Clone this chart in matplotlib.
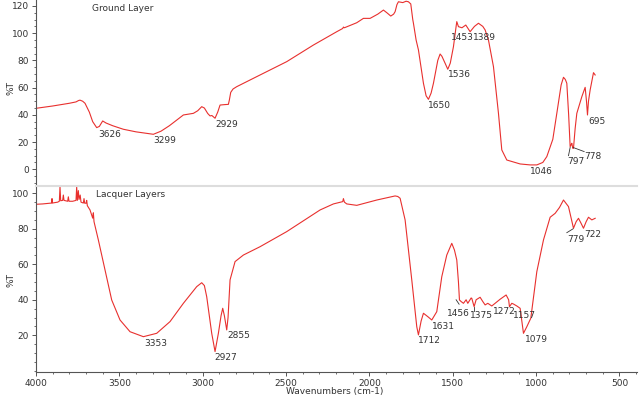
import matplotlib
matplotlib.use("Agg")
import matplotlib.pyplot as plt
from matplotlib.ticker import MultipleLocator

# ---------------- data ----------------
ground_wn = [4000, 3900, 3800, 3760, 3745, 3736, 3720, 3706, 3680, 3660, 3636, 3620, 3600, 3580,
             3540, 3476, 3400, 3296, 3250, 3200, 3116, 3056, 3030, 3006, 2990, 2970, 2956, 2945,
             2926, 2910, 2896, 2870, 2846, 2840, 2832, 2818, 2796, 2656, 2496, 2336, 2196, 2160,
             2156, 2150, 2076, 2036, 1996, 1950, 1916, 1895, 1872, 1855, 1846, 1835, 1826, 1800,
             1780, 1766, 1752, 1740, 1736, 1720, 1706, 1676, 1660, 1646, 1630, 1616, 1590, 1576,
             1565, 1546, 1530, 1515, 1496, 1480, 1476, 1466, 1445, 1422, 1396, 1370, 1346, 1320,
             1306, 1286, 1256, 1226, 1206, 1176, 1096, 1036, 996, 960, 936, 900, 876, 850, 836,
             825, 816, 805, 796, 790, 786, 780, 776, 766, 756, 726, 706, 698, 692, 686, 676, 656, 646]
ground_T = [44.8, 46.5, 48.5, 49.5, 50.5, 50.8, 50.0, 48.5, 42.0, 35.0, 30.6, 31.5, 35.5, 34.0,
            32.0, 29.4, 27.5, 25.7, 28.0, 32.0, 39.9, 41.1, 43.0, 46.0, 45.0, 41.0, 39.2, 39.5,
            37.5, 42.0, 47.2, 47.5, 47.7, 51.0, 56.5, 59.0, 60.7, 69.3, 79.1, 91.3, 101.1, 103.5,
            104.5, 104.0, 107.7, 110.9, 110.9, 114.0, 117.0, 115.0, 112.6, 114.0, 115.8, 121.0, 123.1, 122.5,
            123.5, 123.1, 121.5, 110.0, 107.3, 95.0, 87.7, 63.2, 54.0, 51.4, 56.0, 63.2, 80.0, 84.7,
            83.0, 77.9, 73.5, 78.0, 90.1, 105.0, 108.5, 104.8, 104.0, 106.0, 101.1, 105.0, 107.3, 105.0,
            102.4, 95.0, 75.4, 41.1, 14.2, 6.8, 3.9, 3.2, 3.2, 5.0, 9.3, 22.0, 41.1, 62.0, 67.6,
            66.0, 63.2, 40.0, 16.6, 18.0, 19.1, 15.4, 15.4, 30.0, 41.1, 53.3, 60.2, 50.0, 39.9, 50.0, 58.3, 71.0, 69.3]

lacquer_wn = [4000, 3960, 3920, 3906, 3904, 3902, 3870, 3860, 3856, 3852, 3840, 3836, 3832, 3810,
              3806, 3802, 3780, 3760, 3756, 3752, 3746, 3742, 3735, 3730, 3716, 3712, 3708, 3700,
              3696, 3692, 3676, 3660, 3656, 3652, 3626, 3586, 3546, 3496, 3436, 3356, 3276, 3196,
              3116, 3036, 3006, 2990, 2976, 2946, 2926, 2906, 2890, 2880, 2870, 2856, 2848, 2836,
              2806, 2756, 2656, 2496, 2296, 2216, 2160, 2156, 2150, 2136, 2076, 1956, 1846, 1830,
              1816, 1786, 1746, 1716, 1706, 1690, 1676, 1650, 1626, 1596, 1566, 1536, 1506, 1490,
              1476, 1466, 1460, 1450, 1436, 1420, 1410, 1390, 1386, 1372, 1360, 1336, 1320, 1306,
              1290, 1266, 1240, 1216, 1180, 1165, 1160, 1146, 1136, 1116, 1096, 1086, 1076, 1056,
              1032, 996, 956, 916, 886, 860, 836, 806, 790, 776, 760, 746, 730, 716, 700, 686, 666, 646]
lacquer_T = [93.8, 94.0, 94.4, 94.5, 97.0, 94.5, 95.0, 95.5, 103.7, 95.8, 96.0, 99.0, 96.0, 95.5,
             98.0, 95.5, 95.5, 96.0, 103.7, 96.0, 101.5, 96.5, 99.0, 95.0, 94.5, 97.0, 94.4, 94.4,
             96.0, 93.0, 90.6, 86.0, 89.0, 84.0, 73.7, 56.8, 39.9, 28.6, 22.0, 19.2, 21.1, 27.7,
             38.0, 47.4, 49.6, 48.0, 41.7, 21.1, 10.8, 21.1, 31.0, 35.2, 31.0, 23.0, 30.0, 51.2,
             61.5, 65.2, 69.9, 78.4, 90.6, 94.0, 95.3, 97.0, 95.0, 94.0, 93.2, 96.2, 98.5, 98.2,
             97.2, 85.0, 51.2, 24.8, 20.2, 28.0, 32.4, 30.5, 28.6, 33.3, 53.0, 65.2, 71.8, 68.0,
             62.4, 50.0, 39.9, 39.0, 38.0, 40.0, 38.0, 41.0, 40.8, 36.1, 40.0, 41.4, 39.0, 37.1,
             38.0, 36.5, 38.5, 40.3, 42.7, 40.0, 36.1, 38.0, 37.6, 36.5, 35.2, 28.0, 21.1, 24.8,
             29.6, 55.8, 73.7, 86.5, 88.7, 92.0, 96.2, 92.5, 86.0, 80.3, 84.0, 85.9, 83.0, 80.3, 84.0, 86.5, 85.0, 85.9]

# peak labels: text, x (wavenumber of label left edge), y (label centre)
ground_labels = ["3626", "3299", "2929", "1650", "1536", "1453", "1389", "1046", "797", "778", "695"]
ground_lab_x = [3626, 3296, 2926, 1646, 1530, 1512, 1382, 1036, 811, 711, 686]
ground_lab_y = [25.2, 21.0, 33.0, 46.7, 69.3, 97.0, 97.0, -1.7, 5.6, 9.3, 35.0]

lacquer_labels = ["3353", "2927", "2855", "1712", "1631", "1456", "1375", "1272", "1157", "1079", "779", "722"]
lacquer_lab_x = [3352, 2930, 2852, 1706, 1622, 1536, 1400, 1262, 1142, 1066, 816, 712]
lacquer_lab_y = [15.5, 7.4, 19.8, 16.8, 25.2, 32.0, 30.9, 33.3, 31.4, 17.4, 73.7, 76.9]

# ---------------- figure ----------------
W, H = 643, 398
fig = plt.figure(figsize=(W / 100, H / 100), dpi=100)
left, right = 36 / W, 637 / W
ax1 = fig.add_axes([left, 1 - 186 / H, right - left, 186 / H])
ax2 = fig.add_axes([left, 1 - 372 / H, right - left, (372 - 186) / H])

red = "#e8302e"
fs = 6.5
tc = "#333333"

for ax in (ax1, ax2):
    ax.set_xlim(4000, 395)
    ax.spines["right"].set_visible(False)
    ax.spines["left"].set_color("#555555")
    ax.spines["left"].set_linewidth(0.8)
    ax.yaxis.set_major_locator(MultipleLocator(20))
    ax.yaxis.set_minor_locator(MultipleLocator(5))
    ax.tick_params(axis="y", which="major", length=3, width=0.7, labelsize=fs, colors="#555555",
                   labelcolor=tc, pad=2)
    ax.tick_params(axis="y", which="minor", length=1.6, width=0.6, colors="#555555")

ax1.plot(ground_wn, ground_T, color=red, lw=0.8)
ax1.set_ylim(-12.3, 124.4)
ax1.set_yticks([0, 20, 40, 60, 80, 100, 120])
ax1.spines["top"].set_visible(False)
ax1.spines["bottom"].set_visible(False)
ax1.set_xticks([])
ax1.text(3662, 118.3, "Ground Layer", fontsize=fs, color=tc, ha="left", va="center")

ax2.plot(lacquer_wn, lacquer_T, color=red, lw=0.8)
ax2.set_ylim(-0.7, 104.1)
ax2.set_yticks([20, 40, 60, 80, 100])
ax2.spines["top"].set_color("#dddddd")
ax2.spines["top"].set_linewidth(1.5)
ax2.spines["bottom"].set_color("#555555")
ax2.spines["bottom"].set_linewidth(0.8)
ax2.xaxis.set_minor_locator(MultipleLocator(100))
ax2.set_xticks([4000, 3500, 3000, 2500, 2000, 1500, 1000, 500])
ax2.set_xlim(4000, 395)
ax2.tick_params(axis="x", which="major", length=3, width=0.7, labelsize=fs, colors="#555555",
                labelcolor=tc, pad=2)
ax2.tick_params(axis="x", which="minor", length=1.6, width=0.6, colors="#555555")
ax2.text(3640, 99.2, "Lacquer Layers", fontsize=fs, color=tc, ha="left", va="center")

# axis titles
fig.text(11 / W, 1 - 88 / H, "%T", fontsize=fs, color=tc, rotation=90, ha="center", va="center")
fig.text(11 / W, 1 - 280 / H, "%T", fontsize=fs, color=tc, rotation=90, ha="center", va="center")
fig.text(0.52, 0.004, "Wavenumbers (cm-1)", fontsize=fs, color=tc, ha="center", va="bottom")

for t, x, y in zip(ground_labels, ground_lab_x, ground_lab_y):
    ax1.text(x, y, t, fontsize=fs, color=tc, ha="left", va="center")
for t, x, y in zip(lacquer_labels, lacquer_lab_x, lacquer_lab_y):
    ax2.text(x, y, t, fontsize=fs, color=tc, ha="left", va="center")

# leader lines
ax1.plot([796, 806], [16.0, 10.0], color="#333333", lw=0.6)
ax1.plot([778, 712], [16.0, 13.0], color="#333333", lw=0.6)
ax2.plot([1462, 1480], [37.5, 40.0], color="#333333", lw=0.6)
ax2.plot([1372, 1372], [36.0, 33.5], color="#333333", lw=0.6)
ax2.plot([778, 816], [80.0, 77.8], color="#333333", lw=0.6)

fig.savefig("out.png", dpi=100)
